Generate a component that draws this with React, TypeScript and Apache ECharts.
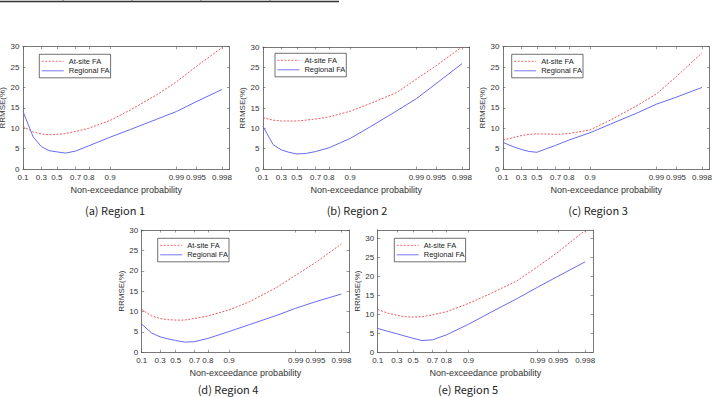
import React, { useEffect, useRef } from "react";
import * as echarts from "echarts";

// Non-exceedance probabilities at which RRMSE was evaluated
const probs = [0.1, 0.2, 0.3, 0.4, 0.5, 0.6, 0.7, 0.8, 0.9, 0.95, 0.98, 0.99, 0.995, 0.998];

// Probability tick labels on the Gumbel-scaled x axis
const probTicks = [0.1, 0.3, 0.5, 0.7, 0.8, 0.9, 0.99, 0.995, 0.998];
const probTickLabels = ["0.1", "0.3", "0.5", "0.7", "0.8", "0.9", "0.99", "0.995", "0.998"];
const rrmseTicks = [0, 5, 10, 15, 20, 25, 30];

// RRMSE (%) per region
const region1AtSite = [10.4, 9.1, 8.6, 8.4, 8.5, 8.7, 9.2, 10.0, 11.9, 14.5, 18.2, 21.4, 25.1, 29.8];
const region1Regional = [14.1, 7.9, 5.5, 4.5, 4.2, 3.9, 4.4, 5.7, 7.8, 9.7, 12.2, 14.1, 16.5, 19.5];
const region2AtSite = [12.6, 12.0, 11.8, 11.8, 11.8, 12.0, 12.3, 12.8, 14.2, 16.1, 18.8, 22.1, 25.4, 30.0];
const region2Regional = [10.5, 6.0, 4.7, 4.1, 3.7, 3.8, 4.3, 5.2, 7.5, 10.4, 14.3, 17.3, 21.0, 25.9];
const region3AtSite = [7.1, 7.7, 8.2, 8.5, 8.6, 8.6, 8.5, 8.7, 9.6, 12.0, 15.5, 18.4, 22.6, 28.5];
const region3Regional = [6.5, 5.5, 4.8, 4.3, 4.1, 4.9, 5.8, 7.1, 8.9, 11.0, 13.7, 15.9, 17.6, 20.0];
const region4AtSite = [10.5, 8.9, 8.3, 8.0, 7.9, 7.9, 8.3, 8.9, 10.4, 12.4, 15.8, 18.9, 22.0, 26.6];
const region4Regional = [6.9, 4.7, 3.8, 3.3, 2.9, 2.5, 2.6, 3.4, 5.1, 6.8, 9.0, 10.8, 12.4, 14.3];
const region5AtSite = [11.3, 10.3, 9.8, 9.4, 9.3, 9.4, 9.9, 10.7, 12.9, 15.4, 18.9, 22.6, 26.5, 32.2];
const region5Regional = [6.3, 5.5, 4.9, 4.3, 3.7, 3.1, 3.3, 4.6, 7.4, 10.4, 14.2, 17.2, 20.1, 23.9];

const captions = ["(a) Region 1", "(b) Region 2", "(c) Region 3", "(d) Region 4", "(e) Region 5"];
const atSiteSeries = [region1AtSite, region2AtSite, region3AtSite, region4AtSite, region5AtSite];
const regionalSeries = [region1Regional, region2Regional, region3Regional, region4Regional, region5Regional];
const rrmseMax = [30, 30, 30, 30, 32.3];

// Gumbel reduced variate used for the probability axis
const gumbel = (p: number) => -Math.log(-Math.log(p));
const xMin = gumbel(0.1);
const xMax = 6.48;

const FONT = "'Liberation Sans', Arial, sans-serif";
const RED = "#ec5a5e";
const BLUE = "#6a6af2";
const AXIS = "#555";

// Panel placement on the page
const layout = [
  { left: 23, top: 46.7, width: 206.5, height: 122.3, legend: [39.3, 54.3], caption: [115, 210] },
  { left: 263, top: 47, width: 206.5, height: 122, legend: [275, 53.3], caption: [357, 210] },
  { left: 503, top: 46.7, width: 206.5, height: 122.3, legend: [511.7, 54.3], caption: [598, 210] },
  { left: 141.7, top: 230, width: 207.3, height: 122.3, legend: [157.7, 238.3], caption: [228, 388.5] },
  { left: 377.7, top: 230, width: 215.3, height: 122.3, legend: [394.3, 238.3], caption: [468, 388.5] },
];

const tickValues = probTicks.map(gumbel);
const probLabel = (v: number) => {
  let best = 0;
  tickValues.forEach((t, k) => {
    if (Math.abs(t - v) < Math.abs(tickValues[best] - v)) best = k;
  });
  return probTickLabels[best];
};

export default function App() {
  const ref = useRef<HTMLDivElement>(null);

  useEffect(() => {
    if (!ref.current) return;
    const chart = echarts.init(ref.current, undefined, { renderer: "svg" });

    const grid: any[] = [];
    const xAxis: any[] = [];
    const yAxis: any[] = [];
    const series: any[] = [];
    const legend: any[] = [];
    const graphic: any[] = [];

    layout.forEach((L, i) => {
      grid.push({
        left: L.left,
        top: L.top,
        width: L.width,
        height: L.height,
        containLabel: false,
        outerBoundsMode: "none",
      });

      const frame = { show: true, onZero: false, lineStyle: { color: AXIS, width: 0.8 } };
      xAxis.push({
        type: "value",
        gridIndex: i,
        position: "bottom",
        min: xMin,
        max: xMax,
        axisLine: frame,
        axisTick: { show: true, inside: true, length: 2.5, customValues: tickValues, lineStyle: { color: AXIS, width: 0.6 } },
        axisLabel: { customValues: tickValues, formatter: probLabel, fontSize: 8, color: "#333", margin: 4, fontFamily: FONT },
        splitLine: { show: false },
        name: "Non-exceedance probability",
        nameLocation: "middle",
        nameGap: 16,
        nameTextStyle: { fontSize: 9, color: "#333", fontFamily: FONT },
      });
      xAxis.push({
        type: "value",
        gridIndex: i,
        position: "top",
        min: xMin,
        max: xMax,
        axisLine: frame,
        axisTick: { show: true, inside: true, length: 2.5, customValues: tickValues, lineStyle: { color: AXIS, width: 0.6 } },
        axisLabel: { show: false },
        splitLine: { show: false },
      });
      yAxis.push({
        type: "value",
        gridIndex: i,
        position: "left",
        min: 0,
        max: rrmseMax[i],
        axisLine: frame,
        axisTick: { show: true, inside: true, length: 2.5, customValues: rrmseTicks, lineStyle: { color: AXIS, width: 0.6 } },
        axisLabel: { customValues: rrmseTicks, fontSize: 8, color: "#333", margin: 3.5, fontFamily: FONT },
        splitLine: { show: false },
        name: "RRMSE(%)",
        nameLocation: "middle",
        nameGap: 10.5,
        nameRotate: 90,
        nameTextStyle: { fontSize: 8, color: "#333", fontFamily: FONT },
      });
      yAxis.push({
        type: "value",
        gridIndex: i,
        position: "right",
        min: 0,
        max: rrmseMax[i],
        axisLine: frame,
        axisTick: { show: true, inside: true, length: 2.5, customValues: rrmseTicks, lineStyle: { color: AXIS, width: 0.6 } },
        axisLabel: { show: false },
        splitLine: { show: false },
      });

      series.push({
        type: "line",
        name: "At-site FA",
        xAxisIndex: 2 * i,
        yAxisIndex: 2 * i,
        data: probs.map((p, k) => [gumbel(p), atSiteSeries[i][k]]),
        symbol: "none",
        clip: true,
        lineStyle: { color: RED, width: 1, type: [2, 1.5] },
        itemStyle: { color: RED },
      });
      series.push({
        type: "line",
        name: "Regional FA",
        xAxisIndex: 2 * i,
        yAxisIndex: 2 * i,
        data: probs.map((p, k) => [gumbel(p), regionalSeries[i][k]]),
        symbol: "none",
        clip: true,
        lineStyle: { color: BLUE, width: 1 },
        itemStyle: { color: BLUE },
      });

      legend.push({
        show: true,
        left: L.legend[0],
        top: L.legend[1],
        orient: "vertical",
        data: ["At-site FA", "Regional FA"],
        itemWidth: 22,
        itemHeight: 8,
        itemGap: 1.5,
        padding: [3, 1, 3, 2],
        borderColor: "#333",
        borderWidth: 0.7,
        backgroundColor: "#fff",
        selectedMode: false,
        // legend keys show only the line sample, no marker
        itemStyle: { opacity: 0, color: "transparent", borderWidth: 0 },
        lineStyle: { width: 0.9 },
        textStyle: { fontSize: 7.5, color: "#222", fontFamily: FONT },
      });

      graphic.push({
        type: "text",
        x: L.caption[0],
        y: L.caption[1],
        style: {
          text: captions[i],
          fontSize: 11,
          fontFamily: "'Noto Sans CJK KR', sans-serif",
          fill: "#222",
          textAlign: "center",
          textVerticalAlign: "middle",
        },
      });
    });

    // Bottom rule of the table above the figure
    graphic.push({ type: "line", shape: { x1: 0, y1: 1.5, x2: 339, y2: 1.5 }, style: { stroke: "#333", lineWidth: 1.5 } });
    [63, 132, 201, 270].forEach((x) => {
      graphic.push({ type: "line", shape: { x1: x, y1: 0, x2: x, y2: 1.5 }, style: { stroke: "#555", lineWidth: 0.8 } });
    });

    chart.setOption({
      animation: false,
      backgroundColor: "#fff",
      grid,
      xAxis,
      yAxis,
      series,
      legend,
      graphic,
    });

    return () => chart.dispose();
  }, []);

  return (
    <div
      ref={ref}
      style={{ position: "absolute", left: 0, top: 0, width: 715, height: 397, background: "#fff" }}
    />
  );
}
